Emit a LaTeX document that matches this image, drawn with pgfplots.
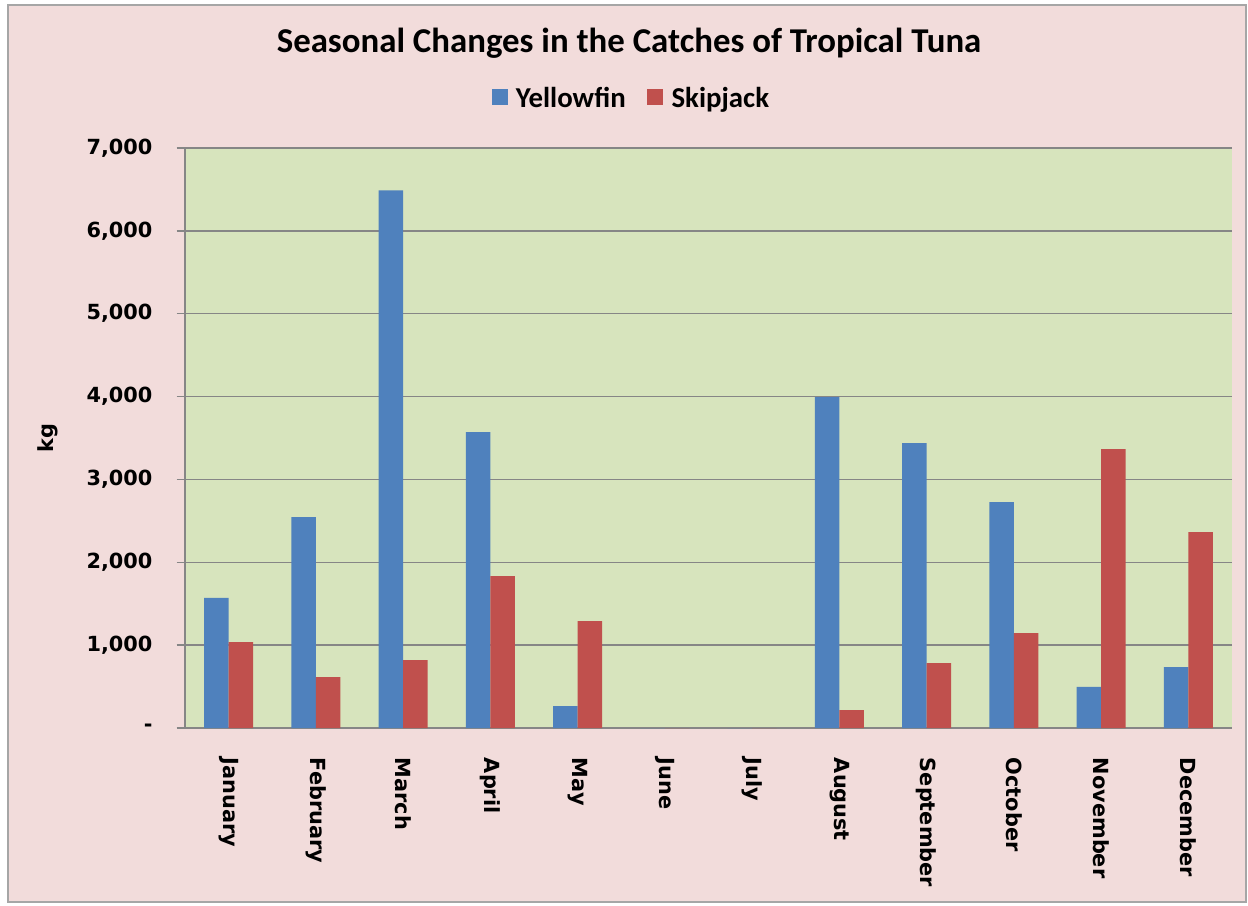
\documentclass[border=0pt]{standalone}
\usepackage{pgfplots}
\pgfplotsset{compat=1.18}
\usepackage{fontspec}
\setmainfont{DejaVu Sans}
\newfontfamily\carlito{Carlito}
\definecolor{bgpink}{HTML}{F2DCDB}
\definecolor{plotgreen}{HTML}{D7E4BD}
\definecolor{yfblue}{HTML}{4F81BD}
\definecolor{skred}{HTML}{C0504D}
\definecolor{gridgray}{HTML}{868686}
\begin{document}
\begin{tikzpicture}[x=0.6pt,y=0.6pt]
\fill[white] (0,0) rectangle (1248,905);
\filldraw[fill=bgpink, draw=gray!70, line width=1pt] (8,3) rectangle (1246,900);
\node[font=\carlito\bfseries\fontsize{20.9}{24}\selectfont] at (629,862) {Seasonal Changes in the Catches of Tropical Tuna};
\begin{axis}[
  at={(111pt,106.2pt)}, anchor=south west,
  scale only axis, width=628.2pt, height=348pt,
  ybar=0pt, bar width=14.7pt,
  xmin=-0.5, xmax=11.5, ymin=0, ymax=7000,
  axis x line*=bottom, axis y line*=left,
  axis line style={gridgray, line width=0.8pt},
  axis background/.style={fill=plotgreen},
  xtick={0,...,11}, major x tick style={draw=none},
  xticklabels={January,February,March,April,May,June,July,August,September,October,November,December},
  xticklabel style={rotate=-90, anchor=west, font=\bfseries\fontsize{12.5}{14}\selectfont},
  xticklabel shift=9.4pt,
  ytick={0,1000,...,7000},
  yticklabels={-,{1,000},{2,000},{3,000},{4,000},{5,000},{6,000},{7,000}},
  yticklabel style={font=\bfseries\fontsize{12.5}{14}\selectfont},
  yticklabel shift=11pt,
  ytick style={gridgray, line width=0.8pt},
  tick align=outside, major tick length=5pt,
  ymajorgrids, grid style={gridgray, line width=0.8pt},
  ylabel={kg}, ylabel style={at={(axis description cs:-0.131,0.5)}, anchor=center, font=\bfseries\fontsize{12.5}{14}\selectfont},
  legend style={at={(0.427,1.086)}, anchor=center, draw=none, fill=none,
    legend columns=2, font=\carlito\bfseries\fontsize{17.3}{19}\selectfont,
    /tikz/every even column/.append style={column sep=11pt}},
  legend image code/.code={\fill[#1] (0pt,-4.3pt) rectangle (9.6pt,5.3pt); \path (12.5pt,0pt);},
]
\addplot[fill=yfblue, draw=none] coordinates {(0,1570) (1,2545) (2,6490) (3,3570) (4,265) (5,0) (6,0) (7,3993) (8,3438) (9,2726) (10,495) (11,736)};
\addplot[fill=skred, draw=none] coordinates {(0,1037) (1,615) (2,820) (3,1833) (4,1290) (5,0) (6,0) (7,217) (8,784) (9,1146) (10,3366) (11,2364)};
\legend{Yellowfin,Skipjack}
\end{axis}
\end{tikzpicture}
\end{document}
